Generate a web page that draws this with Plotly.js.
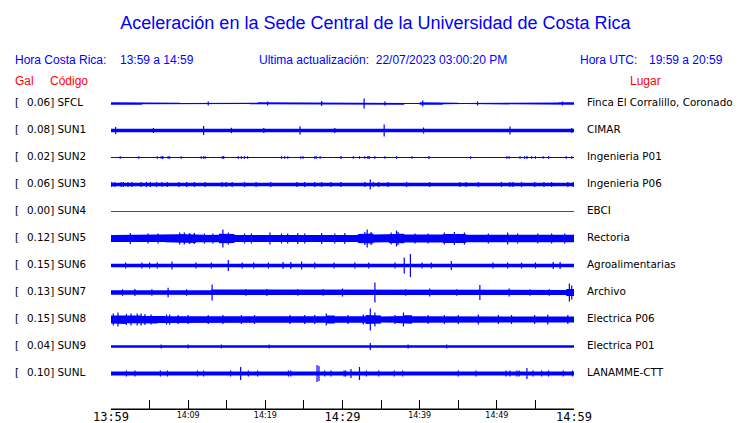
<!DOCTYPE html>
<html><head><meta charset="utf-8">
<script src="https://cdn.plot.ly/plotly-3.0.1.min.js"></script>
<style>body{margin:0;background:#fff}</style></head>
<body><div id="chart" style="width:740px;height:423px"></div>
<script>
// ---- Data ----
const codes = ['SFCL','SUN1','SUN2','SUN3','SUN4','SUN5','SUN6','SUN7','SUN8','SUN9','SUNL'];
const galValues = ['0.06','0.08','0.02','0.06','0.00','0.12','0.15','0.13','0.15','0.04','0.10'];
const places = ['Finca El Corralillo, Coronado','CIMAR','Ingenieria P01','Ingenieria P06','EBCI','Rectoria','Agroalimentarias','Archivo','Electrica P06','Electrica P01','LANAMME-CTT'];
const traceColors = ['blue','blue','blue','blue','red','blue','blue','blue','blue','blue','blue'];

// time axis: minutes after 13:59 (local)
const tickMinutes = [0,5,10,15,20,25,30,35,40,45,50,55,60];
const majorTickLabels = ['13:59','','','','','','14:29','','','','','','14:59'];
const minorTickMinutes = [10,20,40,50];
const minorTickLabels = ['14:09','14:19','14:39','14:49'];

// per-minute envelope (half-amplitude, relative units) of each record
const band_SFCL = [1.3,1.3,1.3,1.3,0.8,0.8,1.1,1.0,0.8,0.5, 0.6,0.8,0.9,0.9,0.8,0.7,0.5,0.5,0.8,1.3, 1.3,0.8,1.2,1.3,1.3,1.3,1.3,1.3,1.3,1.3, 1.2,0.8,0.8,0.8,1.0,1.1,1.3,1.3,0.6,0.5, 1.3,1.3,1.3,0.8,0.8,0.5,0.6,1.1,1.1,0.8, 0.6,0.6,0.8,0.8,0.8,0.6,0.8,1.1,1.3,1.3];
const band_SUN1 = [1.7,1.7,1.5,1.7,1.7,1.2,1.7,1.7,1.7,1.7, 1.2,1.7,1.7,1.7,1.5,1.7,1.7,1.5,1.2,1.7, 1.2,1.7,1.7,1.7,1.7,1.7,1.2,1.7,1.7,1.7, 1.7,1.7,1.2,1.7,1.2,1.7,1.7,1.7,1.7,1.7, 1.2,1.7,1.2,1.7,1.7,1.7,1.2,1.7,1.7,1.7, 1.7,1.7,1.7,1.2,1.7,1.7,1.2,1.7,1.7,1.7];
const band_SUN2 = [0.5,0.5,0.5,0.5,0.5,0.5,0.5,0.5,0.5,0.5, 0.5,0.5,0.5,0.5,0.5,0.5,0.5,0.5,0.5,0.5, 0.5,0.5,0.5,0.5,0.5,0.5,0.5,0.5,0.5,0.5, 0.5,0.5,0.5,0.5,0.5,0.5,0.5,0.5,0.5,0.5, 0.5,0.5,0.5,0.5,0.5,0.5,0.5,0.5,0.5,0.5, 0.5,0.5,0.5,0.5,0.5,0.5,0.5,0.5,0.5,0.5];
const band_SUN3 = [1.7,1.7,1.7,1.7,1.7,1.7,1.7,1.7,1.7,1.7, 1.7,1.7,1.7,1.7,1.7,1.7,1.7,1.7,1.7,1.7, 1.7,1.7,2.2,1.7,1.7,1.7,1.7,1.7,1.7,1.7, 1.7,1.7,1.7,1.7,1.7,1.7,1.7,2.2,1.7,1.7, 1.7,1.7,1.7,1.7,1.7,1.7,1.7,1.7,1.7,1.7, 1.7,1.7,1.7,1.7,1.7,1.7,1.7,1.7,1.7,1.7];
const band_SUN4 = [0,0,0,0,0,0,0,0,0,0, 0,0,0,0,0,0,0,0,0,0, 0,0,0,0,0,0,0,0,0,0, 0,0,0,0,0,0,0,0,0,0, 0,0,0,0,0,0,0,0,0,0, 0,0,0,0,0,0,0,0,0,0];
const band_SUN5 = [3.5,3.5,4.2,3.5,3.5,3.5,3.5,3.8,4.2,4.5, 4.5,3.8,3.5,3.8,4.8,4.5,3.5,3.5,3.8,3.5, 4.2,4,3.5,3.8,4,4,3.5,3.5,3.8,4, 4,3.5,4.5,5,4,3.8,4.5,4.8,4,3.5, 3.5,3.8,4,4.5,4.8,4.5,3.8,3.8,3.8,3.5, 3.8,4.2,3.8,3.8,3.5,3.8,4,3.8,3.8,3.8];
const band_SUN6 = [1.8,1.8,1.8,1.8,1.8,1.8,1.8,2.1,2.3,1.8, 1.8,1.8,1.8,1.8,1.8,2.0,1.8,1.8,1.8,1.8, 1.8,1.8,2.1,2.1,2.3,1.8,1.8,1.8,1.8,1.8, 1.8,1.8,1.8,1.8,1.8,1.8,1.8,2.0,2.3,2.1, 1.8,1.8,1.8,1.8,2.1,1.8,1.8,1.8,1.8,1.8, 1.8,1.8,1.8,1.8,1.8,2.1,2.3,2.1,1.8,1.8];
const band_SUN7 = [2.3,2.2,2.6,2.2,2.3,2.6,2.3,2.8,2.3,2.6, 2.3,2.3,2.3,3,2.8,2.3,2.3,2.3,2.3,2.6, 2.3,2.3,2.3,2.6,2.3,2.6,2.3,2.3,2.3,2.3, 2.3,2.3,2.3,2.8,3,2.6,2.3,2.3,2.6,2.3, 2.3,2.6,2.3,2.6,2.3,2.3,2.6,3,2.8,2.6, 2.3,2.6,2.3,2.3,2.3,2.3,2.6,2.3,2.6,3.5];
const band_SUN8 = [4,4.5,3.8,4,3.5,4,3.5,3.2,3.2,3.2, 2.9,3.2,3.2,2.9,2.8,2.8,3.2,2.8,2.9,2.9, 2.8,2.9,3.2,2.9,3.2,3.5,2.9,3.2,4,3.2, 2.9,2.9,3.2,4.5,4,2.9,3.2,3.5,4.2,3.2, 3.2,2.9,3.2,3.2,2.9,2.9,3.2,2.9,3.5,3.2, 2.9,3.2,3.2,2.9,3.2,2.9,3.2,3.5,3.2,2.9];
const band_SUN9 = [1.3,1.3,1.3,1.3,1.3,1.2,1.2,0.9,1.2,0.9, 1.2,0.9,1.2,0.9,1.2,0.9,0.7,0.9,1.2,0.9, 0.9,0.7,1.2,1.2,1.2,1.2,1.2,0.9,1.2,0.9, 1.2,1.2,1.2,1.3,1.2,1.2,1.2,0.7,0.9,0.7, 0.9,1.2,1.2,1.2,0.9,1.2,0.7,0.9,1.2,1.2, 1.2,1.2,1.2,1.2,1.2,0.7,1.2,1.2,1.2,1.2];
const band_SUNL = [2,2,2,2,2,2,2,2,2,2, 2,2,2,2,2,2,2,2,2,2, 2,2,2,2,2,2,2,2,2,2, 2,2,2,2,2,2,2,2,2,2, 2,2,2,2,2,2,2,2,2,2, 2,2,2,2,2,2,2,2,2,2];

// peaks: [minute, half-amplitude]
const peaks_SFCL = [[27.3,2.5],[32.8,5],[40.4,3],[12.6,2],[20.3,2],[35.5,2],[47.5,2],[58.5,2]];
const peaks_SUN1 = [[0.6,3.5],[12.0,4.5],[15.6,2.8],[24.5,4.2],[35.4,6],[40.5,3],[51.7,4],[59.7,2.5],[5.5,2.5],[19.8,2.5],[29,2.5]];
const peaks_SUN2 = [[1.2,1.3],[3.6,1.3],[6.0,1.3],[6.5,1.3],[6.7,1.6],[7.4,1.3],[7.6,1.3],[9.1,1.3],[11.7,1.3],[12.0,1.3],[12.2,1.3],[14.4,1.3],[14.6,1.6],[16.5,1.3],[16.9,1.3],[17.3,1.3],[17.7,1.3],[22.1,1.3],[22.5,1.3],[22.9,1.3],[24.6,1.3],[24.9,1.3],[26.4,1.3],[26.6,1.3],[27.1,1.3],[29.8,1.6],[31.4,1.3],[32.2,1.3],[32.9,1.3],[33.3,1.6],[33.5,1.3],[34.2,1.3],[35.5,1.3],[37.0,1.3],[39.0,1.3],[41.2,1.6],[46.6,1.3],[51.3,1.3],[51.6,1.3],[53.0,1.3],[53.6,1.3],[53.9,1.6],[54.5,1.3],[55.0,1.3],[56.0,1.3],[56.7,1.3],[59.0,1.3],[59.7,1.3]];
const peaks_SUN3 = [[33.6,5],[0.1,2.6],[0.5,2.6],[1.3,2.6],[1.6,2.6],[2.2,2.6],[2.7,2.6],[3.9,2.6],[4.6,2.6],[5.1,2.6],[5.9,2.6],[6.6,2.6],[7.3,2.6],[8.8,2.6],[9.8,2.6],[10.8,2.6],[12.2,2.6],[14.4,2.6],[14.9,2.6],[15.7,2.6],[17.3,2.6],[18.8,2.6],[20.7,2.6],[24.1,2.6],[25.1,2.6],[26.4,2.6],[27.3,2.6],[28.5,2.6],[29.8,2.6],[32.9,2.6],[34.0,2.6],[34.7,2.6],[35.9,2.6],[38.3,2.6],[41.3,2.6],[45.2,2.6],[46.0,2.6],[47.6,2.6],[50.6,2.6],[51.7,2.6],[52.1,2.6],[53.2,2.6],[54.9,2.6],[56.1,2.6],[57.1,2.6],[59.2,2.6],[59.9,2.6]];
const peaks_SUN4 = [];
const peaks_SUN5 = [[14.5,9],[33.2,9],[37.0,8],[2.5,5.5],[4.8,5],[6.1,5],[8.9,6],[9.5,6],[10.2,5.5],[10.8,5.5],[12.1,5],[13.2,5],[15.2,6],[17.3,5],[18.2,5],[20.6,6],[22.1,5],[22.9,5],[24.2,5.5],[25.1,5],[27.3,5.5],[29.0,5],[30.3,5.5],[32.9,6.5],[33.7,6.5],[36.3,6],[37.2,6.5],[39.4,5],[41.1,5],[43.2,6],[44.5,6.5],[45.8,6],[48.9,5],[51.4,6],[52.7,5],[55.3,5],[57.1,5],[58.8,5]];
const peaks_SUN6 = [[15.2,5.5],[38.0,8],[38.8,11.5],[7.9,4],[24.7,4],[44.1,4.5],[1.9,3],[4.0,3],[5.0,3],[6.0,3],[11.0,3],[13,3],[17,3],[18.5,3],[20.4,3],[22.3,3.5],[23.3,3.5],[26.4,3],[28.9,3],[31.6,3],[33.4,3],[36.8,3],[40.3,3],[41.5,3],[49.5,3],[51.4,3],[53.2,3],[55,3],[57.3,3.5],[58.2,3.5]];
const peaks_SUN7 = [[13.1,8],[7.4,4.8],[34.2,10],[47.8,7.5],[59.4,9],[59.7,7],[30,4],[41.3,4],[51.6,4],[3.1,3.5],[20.2,3.5],[1.5,3.3],[5.3,3.3],[9.8,3.3],[17.5,3.3],[24.2,3.3],[27.5,3.3],[38.2,3.3],[44.8,3.3],[54.3,3.3],[56.8,3.3]];
const peaks_SUN8 = [[33.6,11],[37.9,7],[27.9,6],[0.3,6],[0.9,7],[2.0,5.5],[2.6,6],[3.4,6],[3.9,6],[4.4,5.5],[5.2,5],[7.2,5],[7.6,5],[8.7,4.5],[10,4.5],[12.6,4.5],[14.5,4.5],[16.9,4.5],[18.6,4.5],[23.2,4.5],[25.1,4.5],[26.4,4.5],[30.7,4.5],[32.7,5],[34.2,7],[36.8,4.5],[41.1,4.5],[43.2,4.5],[45,4.5],[47.6,5],[50.2,4.5],[51.9,4.5],[54.9,4.5],[56.6,5],[59.2,4.5]];
const peaks_SUN9 = [[33.6,3.5],[6.5,2],[10,2],[14.3,2],[20.5,2],[38.5,2],[43.5,2]];
const peaks_SUNL = [[16.8,6.5],[26.7,8.5],[26.95,7.5],[31.1,4.5],[32.2,6.5],[37.8,3],[53.9,5.5],[2,3],[3.1,3],[6.4,3],[7.3,3],[11.2,3],[12,3],[15.5,3],[17.8,3],[19,3],[23,3],[23.3,3],[27.7,3],[28.5,3],[30.2,3],[30.4,3],[33.1,3],[34.7,3],[36.7,3],[45,3],[47.3,3],[51.2,3],[51.7,3],[52.6,3],[52.9,3],[54.7,3],[55.8,3],[56.7,3],[58.6,3],[59.8,3]];

const bandList = [band_SFCL,band_SUN1,band_SUN2,band_SUN3,band_SUN4,band_SUN5,band_SUN6,band_SUN7,band_SUN8,band_SUN9,band_SUNL];
const peakList = [peaks_SFCL,peaks_SUN1,peaks_SUN2,peaks_SUN3,peaks_SUN4,peaks_SUN5,peaks_SUN6,peaks_SUN7,peaks_SUN8,peaks_SUN9,peaks_SUNL];

// ---- Drawing ----
const AMP = 1/27; // relative amplitude unit -> row units
const LBL_DY = 1.2/27; // label nudge (row units)
const traces = [];
const annotations = [];
const lblFont = {family:'DejaVu Sans', size:10.4, color:'#000'};
const DX = -2.5/463; // small horizontal nudge (paper units)

codes.forEach((code, r) => {
  const yc = codes.length - 1 - r;
  const col = traceColors[r];
  const band = bandList[r];
  traces.push({x:[0,60], y:[yc,yc], mode:'lines', line:{color:col, width:1}, hoverinfo:'skip', showlegend:false});
  if (band.some(v => v > 0)) {
    const bx = [], by = [];
    band.forEach((a,i) => { bx.push(i, i+1); by.push(yc + a*AMP, yc + a*AMP); });
    for (let i = band.length-1; i >= 0; i--) { bx.push(i+1, i); by.push(yc - band[i]*AMP, yc - band[i]*AMP); }
    traces.push({x:bx, y:by, mode:'lines', fill:'toself', fillcolor:col, line:{color:col, width:0}, hoverinfo:'skip', showlegend:false});
  }
  const px = [], py = [];
  peakList[r].forEach(([t,a]) => { px.push(t,t,null); py.push(yc + a*AMP, yc - a*AMP, null); });
  if (px.length) traces.push({x:px, y:py, mode:'lines', line:{color:col, width:1.2}, hoverinfo:'skip', showlegend:false});

  annotations.push({xref:'paper', yref:'y', x:-0.2073+DX, y:yc+LBL_DY, xanchor:'left', yanchor:'middle', text:'[', showarrow:false, font:lblFont});
  annotations.push({xref:'paper', yref:'y', x:-0.1814+DX, y:yc+LBL_DY, xanchor:'left', yanchor:'middle', text:galValues[r] + '] ' + code, showarrow:false, font:lblFont});
  annotations.push({xref:'paper', yref:'y', x:1.0281+DX, y:yc+LBL_DY, xanchor:'left', yanchor:'middle', text:places[r], showarrow:false, font:lblFont});
});

traces.push({x:[null], y:[null], xaxis:'x2', yaxis:'y', mode:'lines', hoverinfo:'skip', showlegend:false});

const hdrFont = {family:'Liberation Sans', size:12, color:'blue'};
const redFont = {family:'Liberation Sans', size:12, color:'red'};
function hdr(x, y, text, font) {
  annotations.push({xref:'paper', yref:'paper', x:x+DX, y:y, xanchor:'left', yanchor:'middle', text:text, showarrow:false, font:font});
}
hdr(-0.2073, 1.0925, 'Hora Costa Rica:', hdrFont);
hdr(0.0203, 1.0925, '13:59 a 14:59', hdrFont);
hdr(0.3218, 1.0925, 'Ultima actualización:  22/07/2023 03:00:20 PM', hdrFont);
hdr(1.0130, 1.0925, 'Hora UTC:', hdrFont);
hdr(1.1641, 1.0925, '19:59 a 20:59', hdrFont);
hdr(-0.2073, 1.028, 'Gal', redFont);
hdr(-0.1296, 1.028, 'Código', redFont);
hdr(1.1214, 1.028, 'Lugar', redFont);

const layout = {
  width:740, height:423,
  margin:{l:111, r:166, t:90, b:14},
  paper_bgcolor:'#fff', plot_bgcolor:'#fff',
  title:{text:'Aceleración en la Sede Central de la Universidad de Costa Rica', xref:'container', x:0.5074, xanchor:'center', yref:'container', y:1-23/423, yanchor:'middle', font:{family:'Liberation Sans', size:18, color:'blue'}},
  xaxis:{range:[0,60], tickmode:'array', tickvals:tickMinutes, ticktext:majorTickLabels, ticks:'inside', ticklen:9, tickcolor:'#000', tickwidth:1,
         showline:true, linecolor:'#000', linewidth:1, showgrid:false, zeroline:false, automargin:false, fixedrange:true, ticklabelstandoff:-3,
         tickfont:{family:'DejaVu Sans Mono', size:12, color:'#000'}},
  xaxis2:{overlaying:'x', anchor:'y', side:'bottom', range:[0,60], tickmode:'array', tickvals:minorTickMinutes, ticktext:minorTickLabels, ticks:'',
          showline:false, showgrid:false, zeroline:false, automargin:false, fixedrange:true,
          tickfont:{family:'DejaVu Sans', size:8, color:'#000'}},
  yaxis:{range:[-1.3148, 10.5], visible:false, fixedrange:true},
  shapes:[{type:'line', xref:'paper', yref:'paper', x0:0, x1:1, y0:0, y1:0, line:{color:'#000', width:1}, layer:'above'}],
  annotations:annotations,
  showlegend:false
};
Plotly.newPlot('chart', traces, layout, {staticPlot:true, displayModeBar:false});
</script>
</body></html>
